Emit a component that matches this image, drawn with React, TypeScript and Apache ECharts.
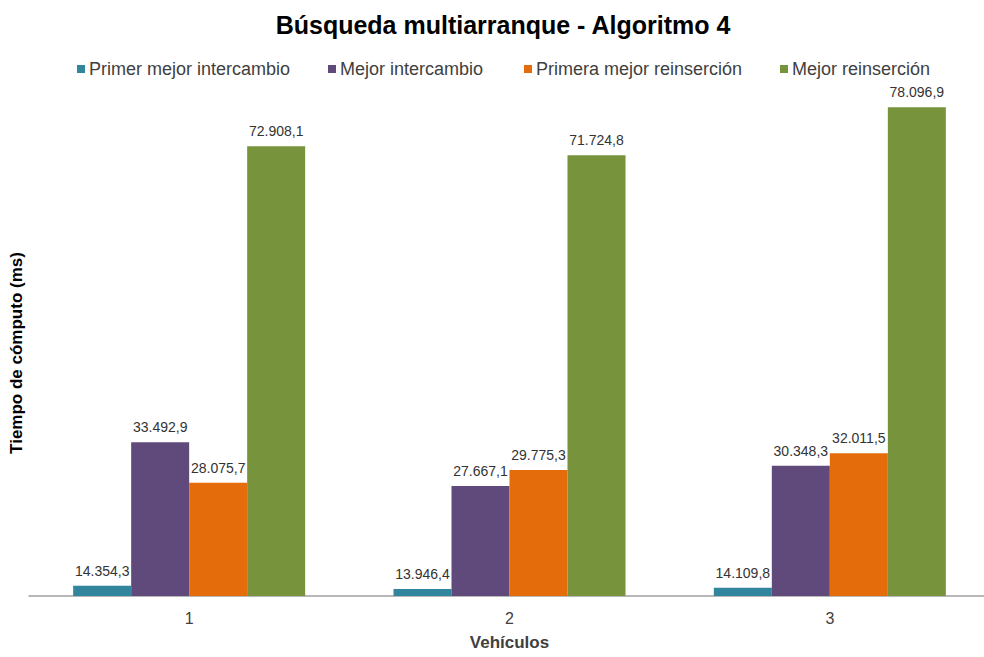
import React, { useEffect, useRef } from "react";
import * as echarts from "echarts";

const categories = ["1", "2", "3"];
const seriesNames = [
  "Primer mejor intercambio",
  "Mejor intercambio",
  "Primera mejor reinserción",
  "Mejor reinserción",
];
const primerMejorIntercambio = [14354.3, 13946.4, 14109.8];
const mejorIntercambio = [33492.9, 27667.1, 30348.3];
const primeraMejorReinsercion = [28075.7, 29775.3, 32011.5];
const mejorReinsercion = [72908.1, 71724.8, 78096.9];
const colors = ["#31859C", "#604A7B", "#E46C0A", "#77933C"];
const legendLefts = [72, 323, 519, 775];

const fmt = (v: number) => {
  const [i, d] = v.toFixed(1).split(".");
  return i.replace(/\B(?=(\d{3})+(?!\d))/g, ".") + "," + d;
};

export default function App() {
  const ref = useRef<HTMLDivElement>(null);
  useEffect(() => {
    if (!ref.current) return;
    const chart = echarts.init(ref.current, null, { renderer: "svg" });
    const values = [
      primerMejorIntercambio,
      mejorIntercambio,
      primeraMejorReinsercion,
      mejorReinsercion,
    ];
    const font = "'Liberation Sans', Arial, sans-serif";
    chart.setOption({
      animation: false,
      backgroundColor: "#ffffff",
      color: colors,
      textStyle: { fontFamily: font },
      title: {
        text: "Búsqueda multiarranque - Algoritmo 4",
        left: 498,
        textAlign: "center",
        top: 7,
        textStyle: { fontSize: 25, fontWeight: "bold", color: "#000", fontFamily: font },
      },
      legend: seriesNames.map((name, i) => ({
        top: 55,
        left: legendLefts[i],
        icon: "rect",
        itemWidth: 8,
        itemHeight: 8,
        itemGap: 0,
        textStyle: { fontSize: 18, color: "#404040", fontFamily: font, padding: [0, 0, 0, -1] },
        data: [name],
      })),
      graphic: [
        {
          type: "text",
          x: 16,
          y: 353,
          rotation: Math.PI / 2,
          style: {
            text: "Tiempo de cómputo (ms)",
            fontSize: 17,
            fontWeight: "bold",
            fontFamily: font,
            fill: "#000",
            textAlign: "center",
            textVerticalAlign: "middle",
          },
        },
      ],
      grid: { left: 29, width: 961, top: 93, bottom: 61, outerBoundsMode: "none", containLabel: false },
      xAxis: {
        type: "category",
        data: categories,
        name: "Vehículos",
        nameLocation: "middle",
        nameGap: 38,
        nameTextStyle: { fontSize: 17, fontWeight: "bold", color: "#404040" },
        axisLine: { lineStyle: { color: "#a0a0a0", width: 1.5 } },
        axisTick: { show: false },
        axisLabel: { fontSize: 16, color: "#404040", margin: 14 },
      },
      yAxis: {
        type: "value",
        min: 13000,
        max: 80000,
        axisLine: { show: false },
        axisTick: { show: false },
        axisLabel: { show: false },
        splitLine: { show: false },
      },
      series: seriesNames.map((name, i) => ({
        name,
        type: "bar",
        data: values[i],
        barWidth: 58,
        barGap: "0%",
        itemStyle: { color: colors[i] },
        label: {
          show: true,
          position: "top",
          distance: 8,
          fontSize: 14,
          color: "#333",
          formatter: (p: any) => fmt(p.value),
        },
      })),
    });
    return () => chart.dispose();
  }, []);
  return (
    <div
      ref={ref}
      style={{ position: "fixed", left: 0, top: 0, width: 984, height: 657 }}
    />
  );
}
